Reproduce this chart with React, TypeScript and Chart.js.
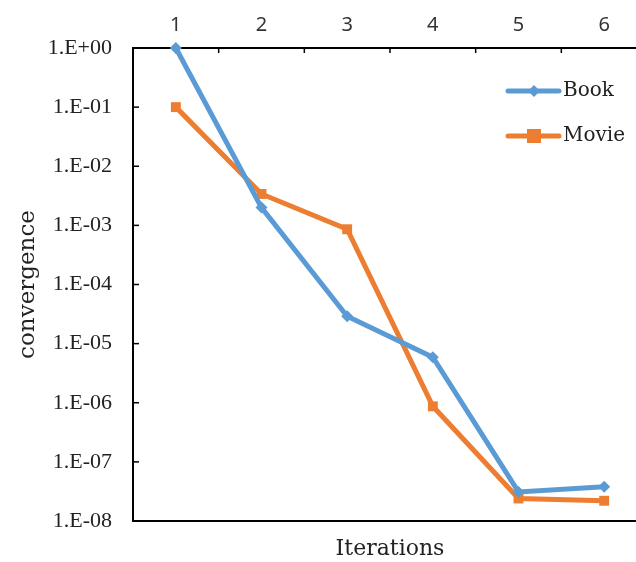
import React, { useEffect, useRef } from "react";
import { Chart, registerables } from "chart.js";

Chart.register(...registerables);

const iterations = ["1", "2", "3", "4", "5", "6"];
const bookValues = [1, 2.0e-3, 2.9e-5, 5.9e-6, 3.1e-8, 3.8e-8];
const movieValues = [1e-1, 3.4e-3, 8.6e-4, 8.7e-7, 2.4e-8, 2.2e-8];
const yTickValues = [1, 1e-1, 1e-2, 1e-3, 1e-4, 1e-5, 1e-6, 1e-7, 1e-8];

const BLUE = "#5B9BD5";
const ORANGE = "#ED7D31";
const TNR = "'Liberation Serif', 'Times New Roman', serif";
const SLAB = "'DejaVu Serif', serif";
const SANS = "'Noto Sans', 'Open Sans', sans-serif";
const CANVAS_W = 647;

function fmtExp(v: number): string {
  const e = Math.round(Math.log10(v));
  const sign = e < 0 ? "-" : "+";
  const a = Math.abs(e);
  return "1.E" + sign + (a < 10 ? "0" + a : String(a));
}

const innerTicksPlugin = {
  id: "innerTicks",
  afterDraw(chart: any) {
    const ctx = chart.ctx;
    const y = chart.scales.y;
    const x = chart.scales.x;
    const { left, top } = chart.chartArea;
    ctx.save();
    ctx.strokeStyle = "#000";
    ctx.lineWidth = 1.5;
    y.ticks.forEach((t: any) => {
      const py = y.getPixelForValue(t.value);
      ctx.beginPath();
      ctx.moveTo(left, py);
      ctx.lineTo(left + 6, py);
      ctx.stroke();
    });
    for (let i = 1; i < iterations.length; i++) {
      const px = x.getPixelForValue(i + 0.5);
      ctx.beginPath();
      ctx.moveTo(px, top);
      ctx.lineTo(px, top + 5);
      ctx.stroke();
    }
    ctx.restore();
  },
};

const legendPlugin = {
  id: "customLegend",
  afterDraw(chart: any) {
    const ctx = chart.ctx;
    const rows = [91, 136];
    ctx.save();
    chart.data.datasets.forEach((ds: any, i: number) => {
      const y = rows[i];
      ctx.strokeStyle = ds.borderColor;
      ctx.lineWidth = 5;
      ctx.lineCap = "round";
      ctx.beginPath();
      ctx.moveTo(508, y);
      ctx.lineTo(559, y);
      ctx.stroke();
      ctx.fillStyle = ds.borderColor;
      const cx = 534;
      if (ds.pointStyle === "rectRot") {
        const r = 6;
        ctx.beginPath();
        ctx.moveTo(cx, y - r);
        ctx.lineTo(cx + r, y);
        ctx.lineTo(cx, y + r);
        ctx.lineTo(cx - r, y);
        ctx.closePath();
        ctx.fill();
      } else {
        ctx.fillRect(cx - 7, y - 7, 14, 14);
      }
      ctx.fillStyle = "#222";
      ctx.font = "20px " + SLAB;
      ctx.textBaseline = "middle";
      ctx.textAlign = "left";
      ctx.fillText(ds.label, 563, y);
    });
    ctx.restore();
  },
};

export default function App() {
  const ref = useRef<HTMLCanvasElement | null>(null);
  useEffect(() => {
    if (!ref.current) return;
    const chart = new Chart(ref.current, {
      type: "line",
      data: {
        datasets: [
          {
            label: "Book",
            data: bookValues.map((v, i) => ({ x: i + 1, y: v })),
            borderColor: BLUE,
            backgroundColor: BLUE,
            borderWidth: 5,
            pointStyle: "rectRot",
            pointRadius: 6,
            pointBorderWidth: 0,
            clip: false,
            xAxisID: "x",
          },
          {
            label: "Movie",
            data: movieValues.map((v, i) => ({ x: i + 1, y: v })),
            borderColor: ORANGE,
            backgroundColor: ORANGE,
            borderWidth: 5,
            pointStyle: "rect",
            pointRadius: 7,
            pointBorderWidth: 0,
            clip: false,
            xAxisID: "x",
          },
        ],
      },
      options: {
        animation: false,
        responsive: false,
        layout: { padding: 0, autoPadding: false },
        plugins: { legend: { display: false }, tooltip: { enabled: false } },
        scales: {
          x: {
            type: "linear",
            position: "top",
            min: 0.5,
            max: 6.5,
            afterBuildTicks: (s: any) => {
              s.ticks = iterations.map((_, i) => ({ value: i + 1 }));
            },
            afterFit: (s: any) => {
              s.height = 48;
              s.paddingLeft = 0;
              s.paddingRight = 0;
            },
            grid: { display: false },
            border: { display: true, color: "#000", width: 2 },
            ticks: {
              callback: (v: any) => iterations[Number(v) - 1] ?? "",
              font: { family: SANS, size: 20 },
              color: "#333",
              padding: 3,
              maxRotation: 0,
            },
          },
          x2: {
            type: "linear",
            position: "bottom",
            min: 0.5,
            max: 6.5,
            afterFit: (s: any) => {
              s.height = 41;
              s.paddingLeft = 0;
              s.paddingRight = 0;
            },
            grid: { display: false },
            border: { display: true, color: "#000", width: 2 },
            ticks: { display: false },
            title: {
              display: true,
              text: "Iterations",
              font: { family: SLAB, size: 22 },
              color: "#222",
              padding: { top: 6, bottom: 0 },
            },
          },
          y: {
            type: "logarithmic",
            min: 1e-8,
            max: 1,
            afterBuildTicks: (s: any) => {
              s.ticks = yTickValues.map((v) => ({ value: v }));
            },
            afterFit: (s: any) => {
              s.width = 133;
            },
            grid: { display: false },
            border: { display: true, color: "#000", width: 2 },
            ticks: {
              callback: (v: any) => fmtExp(Number(v)),
              font: { family: TNR, size: 22 },
              color: "#222",
              padding: 13,
              autoSkip: false,
            },
            title: {
              display: true,
              text: "convergence",
              font: { family: SLAB, size: 23 },
              color: "#222",
              padding: { top: 14, bottom: 0 },
            },
          },
        },
      },
      plugins: [innerTicksPlugin, legendPlugin],
    } as any);
    return () => chart.destroy();
  }, []);
  return (
    <div style={{ position: "absolute", left: 0, top: 0, width: 636, height: 562, overflow: "hidden", background: "#fff" }}>
      <canvas ref={ref} width={CANVAS_W} height={562} style={{ width: CANVAS_W, height: 562 }} />
    </div>
  );
}
